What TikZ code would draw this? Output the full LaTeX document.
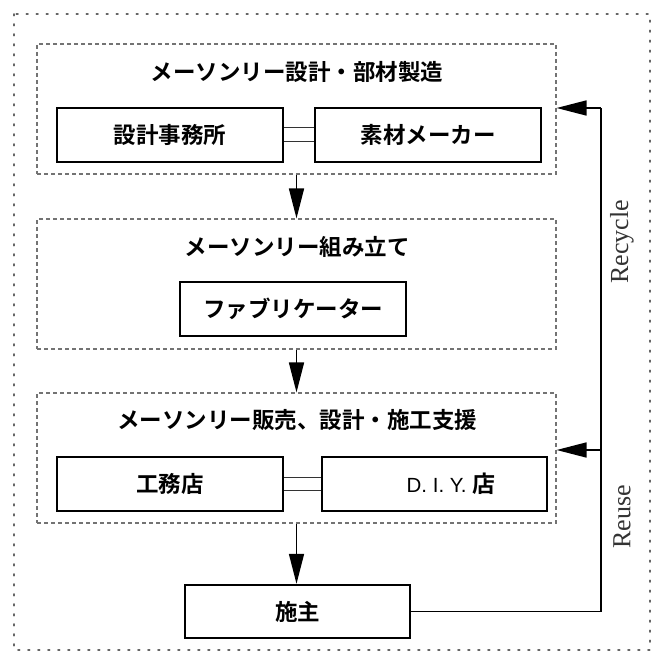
\documentclass[tikz,border=0pt]{standalone}
\usepackage{fontspec}
\newfontfamily\jp{Noto Sans CJK JP}[BoldFont={Noto Sans CJK JP Bold}]
\newfontfamily\lsans{Liberation Sans}
\newfontfamily\lserif{Liberation Serif}
\usetikzlibrary{arrows.meta}
\definecolor{grp}{gray}{0.45}
\definecolor{frm}{gray}{0.4}
\tikzset{
  group/.style={draw=grp, dash pattern=on 4pt off 3pt, line width=1.1pt,
    minimum width=519pt, minimum height=130pt, inner sep=0pt},
  ebox/.style={draw=black, line width=2.4pt, minimum width=226pt, minimum height=54pt,
    inner sep=0pt, font=\jp\bfseries\fontsize{22.5}{26}\selectfont},
  ttl/.style={font=\jp\bfseries\fontsize{22.5}{26}\selectfont, inner sep=0pt},
  arr/.style={line width=1.6pt, -{Triangle[length=30pt,width=15pt]}},
  conn/.style={line width=1.6pt},
  dbl/.style={line width=1pt, draw=black!80},
  lbl/.style={font=\lserif\fontsize{26}{30}\selectfont, rotate=90, inner sep=0pt, text=black!80},
  outer/.style={draw=frm, line width=1.8pt, dash pattern=on 1.6pt off 8.4pt, line cap=round}
}
\begin{document}
\begin{tikzpicture}[x=1pt,y=-1pt]
\useasboundingbox (0,0) rectangle (654,655);
\draw[outer] (14,14) rectangle (650,650);
% groups
\node[group] (g1) at (296.5,109) {};
\node[group] (g2) at (296.5,284) {};
\node[group] (g3) at (296.5,458) {};
% titles
\node[ttl] (t1) at (297,72) {メーソンリー設計・部材製造};
\node[ttl] (t2) at (297,247) {メーソンリー組み立て};
\node[ttl] (t3) at (297,420) {メーソンリー販売、設計・施工支援};
% boxes
\node[ebox] (a) at (170,135) {設計事務所};
\node[ebox] (b) at (428,135) {素材メーカー};
\node[ebox] (f) at (293,309) {ファブリケーター};
\node[ebox] (k) at (170,484) {工務店};
\node[ebox, minimum width=225pt] (d) at (434.5,484) {};
\node[inner sep=0pt] (dt) at (451,484) {{\lsans\fontsize{20.5}{24}\selectfont D. I. Y. }{\jp\bfseries\fontsize{23}{26}\selectfont 店}};
\node[ebox, minimum width=225pt, minimum height=53pt] (s) at (297.5,611.5) {施主};
% double links
\draw[dbl] ([yshift=7pt]a.east) -- ([yshift=7pt]b.west);
\draw[dbl] ([yshift=-7pt]a.east) -- ([yshift=-7pt]b.west);
\draw[dbl] ([yshift=6.5pt]k.east) -- ([yshift=6.5pt]d.west);
\draw[dbl] ([yshift=-6.5pt]k.east) -- ([yshift=-6.5pt]d.west);
% flow arrows
\draw[arr] (g1.south) -- (g2.north);
\draw[arr] (g2.south) -- (g3.north);
\draw[arr] (g3.south) -- (g3.south |- s.north);
% return
\coordinate (r1) at (601,108);
\coordinate (r2) at (601,450);
\draw[conn] (s.east) -| (r1);
\draw[arr] (r1) -- (r1 -| g1.east);
\draw[arr] (r2) -- (r2 -| g3.east);
\node[lbl] (rec) at (622,242) {Recycle};
\node[lbl] (reu) at (622,517) {Reuse};
\end{tikzpicture}
\end{document}
